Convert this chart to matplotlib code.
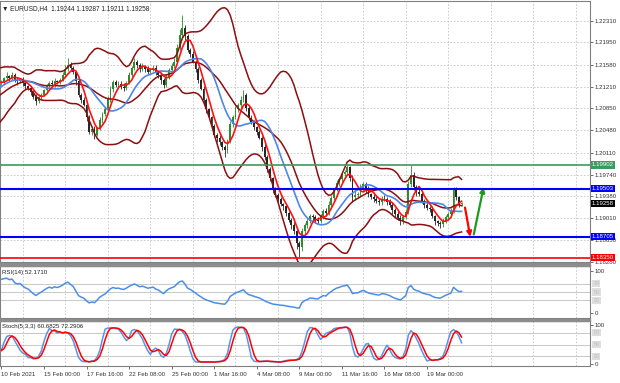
import numpy as np
import pandas as pd
import matplotlib
matplotlib.use("Agg")
import matplotlib.pyplot as plt
from matplotlib.patches import Rectangle

# data (EURUSD H4). first 20 bars are only there to warm the indicators up
warm = 20
closes = [
    1.2066, 1.2072, 1.2069, 1.2078, 1.2083, 1.2090, 1.2086, 1.2095, 1.2101, 1.2108,
    1.2112, 1.2118, 1.2126, 1.2131, 1.2136, 1.2130, 1.2134, 1.2128, 1.2124, 1.2127,
    # visible part
    1.2129, 1.2135, 1.2139, 1.2136, 1.2141, 1.2133, 1.2130, 1.2133, 1.2127, 1.2122,
    1.2119, 1.2112, 1.2104, 1.2097, 1.2103, 1.2108, 1.2115, 1.2122, 1.2128, 1.2125,
    1.2131, 1.2129, 1.2133, 1.2140, 1.2151, 1.2158, 1.2152, 1.2146, 1.2130, 1.2108,
    1.2099, 1.2091, 1.2070, 1.2046, 1.2050, 1.2041, 1.2052, 1.2066, 1.2075, 1.2083,
    1.2100, 1.2118, 1.2129, 1.2124, 1.2126, 1.2121, 1.2119, 1.2128, 1.2141, 1.2152,
    1.2163, 1.2157, 1.2150, 1.2155, 1.2151, 1.2146, 1.2149, 1.2153, 1.2145, 1.2141,
    1.2132, 1.2124, 1.2138, 1.2149, 1.2156, 1.2163, 1.2185, 1.2208, 1.2219, 1.2205,
    1.2183, 1.2175, 1.2163, 1.2150, 1.2133, 1.2118, 1.2098, 1.2083, 1.2070, 1.2055,
    1.2041, 1.2035, 1.2028, 1.2020, 1.2016, 1.2030, 1.2058, 1.2070, 1.2083, 1.2090,
    1.2099, 1.2108, 1.2085, 1.2069, 1.2062, 1.2053, 1.2045, 1.2036, 1.2020, 1.2003,
    1.1983, 1.1968, 1.1949, 1.1940, 1.1933, 1.1925, 1.1921, 1.1910, 1.1899, 1.1890,
    1.1879, 1.1860, 1.1853, 1.1879, 1.1890, 1.1896, 1.1905, 1.1903, 1.1898, 1.1896,
    1.1905, 1.1913, 1.1910, 1.1924, 1.1935, 1.1949, 1.1960, 1.1966, 1.1975, 1.1979,
    1.1986, 1.1969, 1.1936, 1.1940, 1.1941, 1.1950, 1.1958, 1.1950, 1.1941, 1.1937,
    1.1933, 1.1930, 1.1928, 1.1934, 1.1933, 1.1929, 1.1924, 1.1915, 1.1908, 1.1902,
    1.1896, 1.1903, 1.1911, 1.1958, 1.1974, 1.1953, 1.1945, 1.1941, 1.1930, 1.1924,
    1.1919, 1.1916, 1.1905, 1.1896, 1.1893, 1.1891, 1.1897, 1.1903, 1.1908, 1.1913,
    1.1949, 1.1936, 1.19244, 1.19258,
]
# wick lengths in pips above / below the candle body
up_wick = [
    3, 2, 4, 3, 2, 4, 3, 2, 3, 4, 3, 2, 4, 3, 5, 3, 2, 4, 3, 2,
    4, 3, 6, 2, 5, 3, 4, 2, 5, 3,
    2, 4, 3, 5, 6, 3, 2, 4, 3, 5,
    4, 2, 3, 5, 6, 11, 4, 3, 2, 4,
    3, 5, 2, 4, 3, 6, 2, 5, 3, 4,
    6, 5, 4, 3, 5, 4, 6, 3, 5, 4,
    6, 3, 4, 5, 2, 4, 3, 5, 4, 3,
    2, 4, 5, 3, 4, 6, 8, 10, 22, 5,
    4, 3, 5, 2, 4, 3, 5, 4, 3, 2,
    4, 3, 5, 2, 3, 4, 6, 3, 5, 4,
    6, 7, 3, 4, 5, 3, 2, 4, 3, 5,
    4, 3, 2, 5, 3, 4, 2, 3, 4, 3,
    5, 2, 3, 6, 4, 5, 3, 4, 3, 5,
    4, 3, 5, 6, 4, 3, 5, 4, 3, 2,
    4, 3, 5, 6, 4, 8, 3, 4, 5, 3,
    4, 5, 3, 4, 6, 3, 4, 2, 3, 5,
    4, 3, 5, 6, 16, 4, 3, 5, 4, 3,
    4, 3, 5, 2, 3, 4, 5, 3, 4, 6,
    5, 4, 3, 3,
]
dn_wick = [
    3, 4, 2, 3, 4, 2, 3, 4, 3, 2, 3, 4, 2, 3, 3, 4, 2, 3, 4, 3,
    3, 4, 2, 5, 3, 4, 6, 3, 4, 5,
    3, 5, 4, 6, 3, 4, 2, 5, 3, 4,
    5, 3, 4, 2, 3, 4, 5, 3, 6, 4,
    5, 3, 6, 4, 5, 8, 3, 4, 5, 3,
    2, 4, 5, 3, 6, 4, 5, 3, 2, 4,
    3, 5, 4, 3, 5, 4, 3, 2, 4, 5,
    6, 5, 3, 4, 2, 3, 4, 3, 5, 6,
    4, 5, 3, 4, 5, 3, 4, 6, 3, 5,
    4, 6, 5, 4, 12, 5, 3, 4, 3, 5,
    4, 3, 5, 4, 3, 5, 4, 3, 6, 5,
    4, 5, 6, 3, 5, 4, 6, 5, 4, 6,
    5, 10, 17, 6, 4, 5, 3, 6, 4, 5,
    3, 5, 4, 3, 5, 4, 3, 5, 4, 3,
    5, 6, 8, 4, 5, 3, 4, 6, 5, 3,
    4, 3, 5, 4, 3, 5, 4, 6, 5, 4,
    6, 4, 3, 3, 5, 4, 6, 3, 4, 5,
    4, 5, 3, 6, 5, 6, 4, 3, 5, 4,
    3, 5, 4, 3,
]

date_bars = [0, 16, 32, 48, 64, 80, 96, 112, 128, 144, 160]
date_labels = ["10 Feb 2021", "15 Feb 00:00", "17 Feb 16:00", "22 Feb 08:00",
               "25 Feb 00:00", "1 Mar 16:00", "4 Mar 08:00", "9 Mar 00:00",
               "11 Mar 16:00", "16 Mar 08:00", "19 Mar 00:00"]
price_ticks = [1.22310, 1.21950, 1.21580, 1.21210, 1.20850, 1.20480, 1.20110,
               1.19740, 1.19380, 1.19010, 1.18650, 1.18280]
levels = [1.19902, 1.19503, 1.18705, 1.18350]
level_colors = ['#3b9a5e', '#0000ff', '#0000ff', '#ff0000']
level_widths = [1.2, 1.5, 1.5, 1.2]
last_price = 1.19258
# hand drawn arrows: (bar, price) start -> end
red_arrow = [(174.3, 1.1919), (176.3, 1.1870)]
green_arrow = [(177.6, 1.1874), (181.3, 1.1953)]

title = "\u25bc EURUSD,H4  1.19244 1.19287 1.19211 1.19258"
rsi_title = "RSI(14) 52.1710"
stoch_title = "Stoch(5,3,3) 60.6825 72.2906"

# candles + indicators
c = pd.Series(closes)
o = c.shift(1).fillna(c.iloc[0])
hi = np.maximum(o, c) + np.array(up_wick) * 1e-4
lo = np.minimum(o, c) - np.array(dn_wick) * 1e-4
x = np.arange(len(c)) - warm

ma_fast = c.rolling(5).mean()
ma_slow = c.rolling(14).mean()
bb_mid = c.rolling(20).mean()
bb_sd = c.rolling(20).std(ddof=0)
bb_up = bb_mid + 2 * bb_sd
bb_dn = bb_mid - 2 * bb_sd

d = c.diff()
gain = d.clip(lower=0).ewm(alpha=1 / 14, adjust=False).mean()
loss = (-d.clip(upper=0)).ewm(alpha=1 / 14, adjust=False).mean()
rsi = 100 - 100 / (1 + gain / loss)

hh = pd.Series(hi).rolling(5).max()
ll = pd.Series(lo).rolling(5).min()
st_k = 100 * (c - ll).rolling(3).sum() / (hh - ll).rolling(3).sum()
st_d = st_k.rolling(3).mean()

plt.rcParams['font.family'] = ['Liberation Sans', 'DejaVu Sans']
FS = 4.4
GRID = dict(color='#c4c4c4', lw=0.6, ls=(0, (2, 2)))

W, H = 620, 383
def box(x0, y0, x1, y1):
    return [x0 / W, 1 - y1 / H, (x1 - x0) / W, (y1 - y0) / H]

fig = plt.figure(figsize=(6.2, 3.83), dpi=100)
ax = fig.add_axes(box(0, 1, 590, 262))
ax_rsi = fig.add_axes(box(0, 266, 590, 318), sharex=ax)
ax_st = fig.add_axes(box(0, 321, 590, 366), sharex=ax)

# grid
for a in (ax, ax_rsi, ax_st):
    for b in range(8, 221, 16):
        a.axvline(b, zorder=0, **GRID)
for p in price_ticks:
    ax.axhline(p, zorder=0, **GRID)

# main price panel
bull = (c >= o).values
ccol = np.where(bull, '#2e8b2e', '#262626')
ax.vlines(x, lo, hi, color=ccol, lw=0.6, zorder=2)
body_lo = np.minimum(o, c)
body_h = np.maximum(np.abs(c - o), 0.00004)
ax.bar(x, body_h, bottom=body_lo, width=0.7, color=ccol, zorder=2, linewidth=0)

for band in (bb_up, bb_mid, bb_dn):
    ax.plot(x, band, color='#8b0f0f', lw=1.1, zorder=3)
ax.plot(x, ma_slow, color='#4f86e8', lw=1.2, zorder=3)
ax.plot(x, ma_fast, color='#ff1010', lw=1.2, zorder=4)

for lvl, col, lw in zip(levels, level_colors, level_widths):
    ax.axhline(lvl, color=col, lw=lw, zorder=5)
    ax.text(1.003, lvl, f"{lvl:.5f}", transform=ax.get_yaxis_transform(),
            va='center', ha='left', fontsize=FS, color='white', clip_on=False,
            bbox=dict(boxstyle='square,pad=0.18', fc=col, ec='none'), zorder=10)
ax.text(1.003, last_price, f"{last_price:.5f}", transform=ax.get_yaxis_transform(),
        va='center', ha='left', fontsize=FS, color='white', clip_on=False,
        bbox=dict(boxstyle='square,pad=0.18', fc='black', ec='none'), zorder=10)

for arr, col in ((red_arrow, '#ff0000'), (green_arrow, '#1e9a1e')):
    ax.annotate('', xy=arr[1], xytext=arr[0],
                arrowprops=dict(arrowstyle='-|>', color=col, lw=1.6,
                                mutation_scale=7, shrinkA=0, shrinkB=0))

ax.text(0.004, 0.985, title, transform=ax.transAxes, fontsize=FS + 0.3,
        va='top', ha='left', color='#222222')
ax.set_ylim(1.18293, 1.22643)
ax.set_yticks(price_ticks)
ax.set_yticklabels([f"{p:.5f}" for p in price_ticks])

# RSI panel
ax_rsi.plot(x, rsi, color='#4a8fe6', lw=1.1)
ax_rsi.set_ylim(-11.9, 111.9)
ax_rsi.set_yticks([0, 100])
ax_rsi.set_yticklabels(['0', '100'])
ax_rsi.text(0.004, 0.93, rsi_title, transform=ax_rsi.transAxes,
            fontsize=FS, va='top', ha='left', color='#222222')

# Stochastic panel
ax_st.plot(x, st_k, color='#5b93ea', lw=1.1)
ax_st.plot(x, st_d, color='#ff0000', lw=1.1)
ax_st.set_ylim(-5.1, 110.3)
ax_st.set_yticks([0, 100])
ax_st.set_yticklabels(['0', '100'])
ax_st.text(0.004, 0.93, stoch_title, transform=ax_st.transAxes,
           fontsize=FS, va='top', ha='left', color='#222222')

for a, lv in ((ax_rsi, (70, 50, 30)), (ax_st, (80, 50, 20))):
    for v in lv:
        a.axhline(v, color='#c8c8c8', lw=0.7, zorder=0)
        a.text(1.006, v, f"{v}", transform=a.get_yaxis_transform(), va='center',
               ha='left', fontsize=FS - 0.6, color='#bdbdbd', clip_on=False,
               bbox=dict(boxstyle='square,pad=0.2', fc='#dedede', ec='none'))

for a in (ax, ax_rsi, ax_st):
    a.yaxis.tick_right()
    a.tick_params(axis='y', labelsize=FS, length=2, width=0.5, pad=1.5,
                  colors='#333333')
    a.tick_params(axis='x', bottom=False, labelbottom=False)
    for s in a.spines.values():
        s.set_color('#808080')
        s.set_linewidth(0.8)

ax_st.set_xlim(-0.53, 221.3)
ax_st.set_xticks(date_bars)
ax_st.set_xticklabels(date_labels)
ax_st.tick_params(axis='x', bottom=True, labelbottom=True, labelsize=FS,
                  length=2.5, width=0.5, pad=1.5, colors='#333333')
for t in ax_st.get_xticklabels():
    t.set_ha('left')

# panel separators
for y0, y1 in ((262.5, 265.5), (318.5, 321)):
    fig.add_artist(Rectangle((0, 1 - y1 / H), 590 / W, (y1 - y0) / H,
                             transform=fig.transFigure, color='#8c8c8c', zorder=20))

fig.savefig('out.png', dpi=100)
